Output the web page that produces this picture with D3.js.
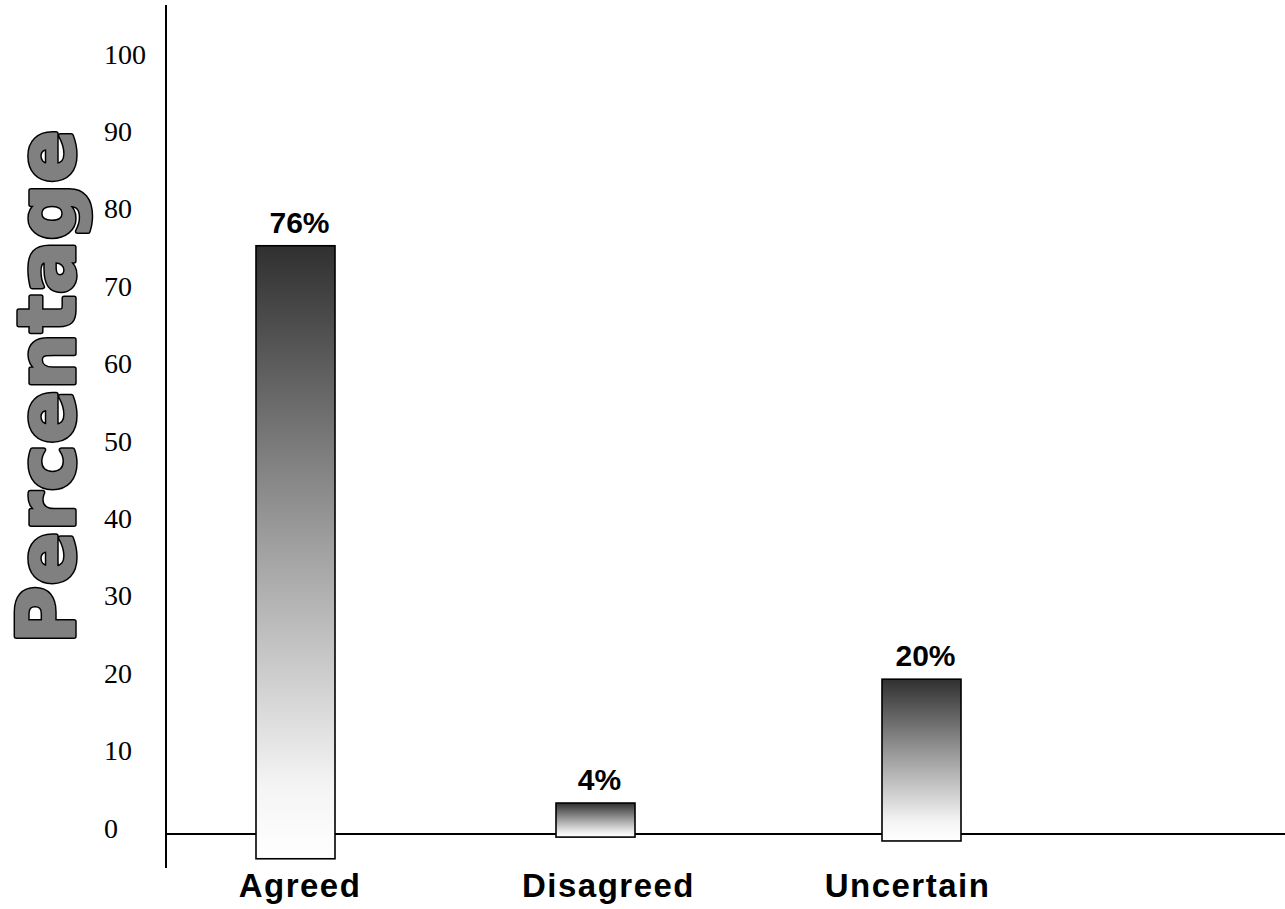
<!DOCTYPE html>
<html>
<head>
<meta charset="utf-8">
<script src="https://cdn.jsdelivr.net/npm/d3@7"></script>
<style>
  html, body { margin: 0; padding: 0; background: #fff; }
  svg { display: block; }
</style>
</head>
<body>
<svg id="chart" width="1285" height="909"></svg>
<script>
// Survey responses (percent)
const categories = ["Agreed", "Disagreed", "Uncertain"];
const values = [76, 4, 20];
// value where each box's lower edge sits (boxes dip slightly under the zero line)
const barBase = [-3.2, -0.4, -0.9];
const valueLabels = ["76%", "4%", "20%"];
const yTicks = [0, 10, 20, 30, 40, 50, 60, 70, 80, 90, 100];

const svg = d3.select("#chart");

const y = d3.scaleLinear().domain([0, 100]).range([834, 60]);
const barX = d3.scaleOrdinal().domain(categories).range([295.5, 595.5, 921.5]);
const labelX = d3.scaleOrdinal().domain(categories).range([300, 608.5, 907.5]);
const barWidth = 79;

// vertical fade: dark top to white bottom
const defs = svg.append("defs");
const grad = defs.append("linearGradient")
  .attr("id", "barFade")
  .attr("x1", 0).attr("y1", 0).attr("x2", 0).attr("y2", 1);
grad.append("stop").attr("offset", "0%").attr("stop-color", "#303030");
grad.append("stop").attr("offset", "50%").attr("stop-color", "#a2a2a2");
grad.append("stop").attr("offset", "88%").attr("stop-color", "#f4f4f4");
grad.append("stop").attr("offset", "100%").attr("stop-color", "#ffffff");

// y tick labels (no tick marks)
svg.append("g")
  .selectAll("text")
  .data(yTicks)
  .join("text")
  .attr("x", 104)
  .attr("y", d => y(d) + 3.5)
  .attr("font-family", "'Liberation Serif', 'Times New Roman', serif")
  .attr("font-size", 28)
  .attr("fill", "#000")
  .text(d => d);

// axis lines
svg.append("line")
  .attr("x1", 166).attr("x2", 166)
  .attr("y1", 5).attr("y2", 868)
  .attr("stroke", "#000").attr("stroke-width", 2);

svg.append("line")
  .attr("x1", 166).attr("x2", 1285)
  .attr("y1", y(0)).attr("y2", y(0))
  .attr("stroke", "#000").attr("stroke-width", 2);

// bars, drawn over the zero line
svg.append("g")
  .selectAll("rect")
  .data(categories)
  .join("rect")
  .attr("x", d => barX(d) - barWidth / 2)
  .attr("y", (d, i) => y(values[i]))
  .attr("width", barWidth)
  .attr("height", (d, i) => y(barBase[i]) - y(values[i]))
  .attr("fill", "url(#barFade)")
  .attr("stroke", "#000")
  .attr("stroke-width", 1.6);

// value labels
svg.append("g")
  .selectAll("text")
  .data(categories)
  .join("text")
  .attr("x", d => barX(d) + 4)
  .attr("y", (d, i) => y(values[i]) - 13)
  .attr("text-anchor", "middle")
  .attr("font-family", "'Liberation Sans', Arial, sans-serif")
  .attr("font-weight", "bold")
  .attr("font-size", 30)
  .attr("fill", "#000")
  .text((d, i) => valueLabels[i]);

// category labels
svg.append("g")
  .selectAll("text")
  .data(categories)
  .join("text")
  .attr("x", d => labelX(d))
  .attr("y", 897)
  .attr("text-anchor", "middle")
  .attr("font-family", "'Liberation Sans', Arial, sans-serif")
  .attr("font-weight", "bold")
  .attr("font-size", 33)
  .attr("letter-spacing", 1.5)
  .attr("fill", "#000")
  .text(d => d);

// y-axis title: heavy grey letters with a black outline
const title = svg.append("g")
  .attr("transform", "translate(74,386) rotate(-90)");
[
  { stroke: "#000", width: 5.5 },
  { stroke: "#808080", width: 2.5 }
].forEach(layer => {
  title.append("text")
    .attr("text-anchor", "middle")
    .attr("font-family", "'DejaVu Sans', Verdana, sans-serif")
    .attr("font-weight", "bold")
    .attr("font-size", 78)
    .attr("letter-spacing", 1.3)
    .attr("fill", "#808080")
    .attr("stroke", layer.stroke)
    .attr("stroke-width", layer.width)
    .attr("stroke-linejoin", "round")
    .text("Percentage");
});
</script>
</body>
</html>
